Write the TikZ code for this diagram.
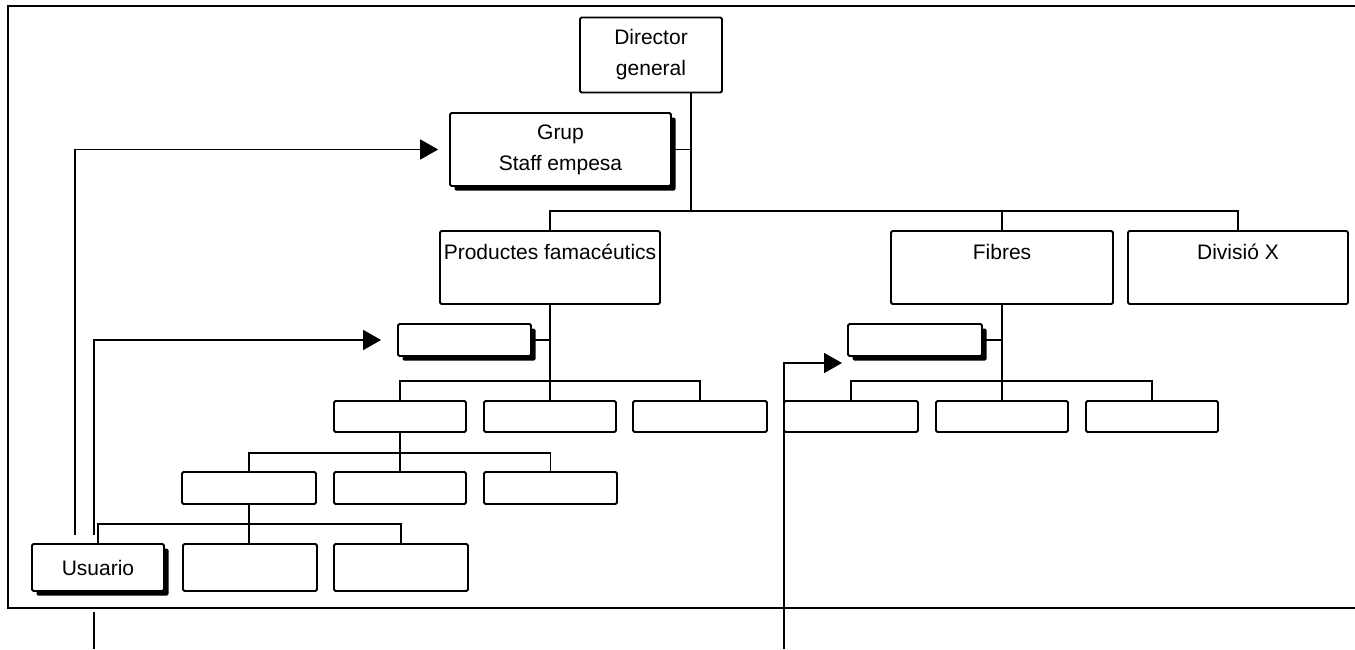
\documentclass[tikz,border=0pt]{standalone}
\usepackage{fontspec}
\setmainfont{Liberation Sans}
\usetikzlibrary{arrows.meta,shadows}

\tikzset{
  unit/.style={rectangle, draw=black, fill=white, line width=1.8pt,
    rounded corners=1.5pt, inner sep=0pt, align=center,
    font=\fontsize{21}{31}\selectfont},
  shadowed/.style={unit, general shadow={fill=black, shadow xshift=4.5pt, shadow yshift=-4.5pt}},
  link/.style={line width=1.8pt},
  arrowlink/.style={line width=1.8pt, -{Triangle[length=18pt,width=20pt]}},
  frame/.style={line width=2.2pt}
}

\begin{document}
\begin{tikzpicture}[x=1pt, y=-1pt]
\useasboundingbox (0,0) rectangle (1355,649);

% outer frame, open on the right
\draw[frame] (1355,6) -- (8,6) -- (8,608) -- (1355,608);

% top level
\node[unit, minimum width=142pt, minimum height=75pt] (dir) at (651,55) {Director\\general};
\node[shadowed, minimum width=221pt, minimum height=73pt] (grup) at (560.5,149.5) {Grup\\Staff empesa};

% divisions
\node[unit, minimum width=220pt, minimum height=73pt] (prod) at (550,267.5) {Productes famacéutics\\~};
\node[unit, minimum width=222pt, minimum height=73pt] (fib) at (1002,267.5) {Fibres\\~};
\node[unit, minimum width=220pt, minimum height=73pt] (divx) at (1238,267.5) {Divisió X\\~};

% staff boxes of the divisions
\node[shadowed, minimum width=133pt, minimum height=32pt] (ps) at (464.5,340) {};
\node[shadowed, minimum width=134pt, minimum height=32pt] (fs) at (915,340) {};

% second level
\node[unit, minimum width=132pt, minimum height=31pt] (p1) at (400,416.5) {};
\node[unit, minimum width=132pt, minimum height=31pt] (p2) at (550,416.5) {};
\node[unit, minimum width=134pt, minimum height=31pt] (p3) at (700,416.5) {};
\node[unit, minimum width=134pt, minimum height=31pt] (f1) at (851,416.5) {};
\node[unit, minimum width=132pt, minimum height=31pt] (f2) at (1002,416.5) {};
\node[unit, minimum width=132pt, minimum height=31pt] (f3) at (1152,416.5) {};

% third level
\node[unit, minimum width=134pt, minimum height=32pt] (q1) at (249,488) {};
\node[unit, minimum width=132pt, minimum height=32pt] (q2) at (400,488) {};
\node[unit, minimum width=133pt, minimum height=32pt] (q3) at (550.5,488) {};

% fourth level
\node[shadowed, minimum width=132pt, minimum height=47pt] (usu) at (98,567.5) {Usuario};
\node[unit, minimum width=134pt, minimum height=47pt] (r2) at (250,567.5) {};
\node[unit, minimum width=134pt, minimum height=47pt] (r3) at (401,567.5) {};

% bus points
\coordinate (bus1) at (691,211);
\coordinate (pb) at (550,381);
\coordinate (fb) at (1002,381);
\coordinate (qb) at (400,453);
\coordinate (rb) at (250,524);

% tree connectors
\draw[link] (dir.south -| bus1) -- (bus1);
\draw[link] (grup.east) -- (grup.east -| bus1);
\draw[link] (prod.north) |- (divx.north |- bus1) -- (divx.north);
\draw[link] (fib.north) -- (fib.north |- bus1);

\draw[link] (prod.south) -- (p2.north);
\draw[link] (ps.east) -- (ps.east -| prod.south);
\draw[link] (p1.north) |- (pb) -| (p3.north);

\draw[link] (fib.south) -- (f2.north);
\draw[link] (fs.east) -- (fs.east -| fib.south);
\draw[link] (f1.north) |- (fb) -| (f3.north);

\draw[link] (p1.south) -- (q2.north);
\draw[link] (q1.north) |- (qb) -| (q3.north);

\draw[link] (q1.south) -- (q1.south |- r2.north);
\draw[link] (usu.north) |- (rb) -| (r3.north);

% reporting arrows
\coordinate (a1) at (75,535);
\coordinate (a2) at (94,535);
\coordinate (a3) at (784,649);
\coordinate (a3tip) at (842,363);
\coordinate (a4top) at (94,612);
\coordinate (a4bot) at (94,649);

\draw[arrowlink, shorten >=11pt] (a1) |- (grup.west);
\draw[arrowlink, shorten >=16pt] (a2) |- (ps.west);
\draw[arrowlink] (a3) |- (a3tip);
\draw[link] (a4top) -- (a4bot);
\end{tikzpicture}
\end{document}
